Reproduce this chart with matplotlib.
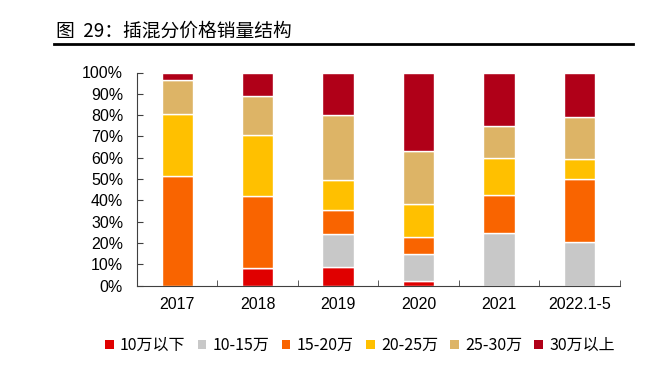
import matplotlib
matplotlib.use("Agg")
import matplotlib.pyplot as plt
from matplotlib.lines import Line2D
from matplotlib.patches import Patch
import numpy as np

plt.rcParams['font.family'] = ['Liberation Sans', 'Noto Sans CJK SC', 'DejaVu Sans']

categories = ['2017', '2018', '2019', '2020', '2021', '2022.1-5']
series_names = ['10万以下', '10-15万', '15-20万', '20-25万', '25-30万', '30万以上']
s_below10 = [0.0, 8.0, 8.8, 2.2, 0.0, 0.0]
s_10_15 = [0.0, 0.0, 15.5, 12.4, 24.6, 20.2]
s_15_20 = [51.5, 34.0, 11.3, 8.1, 17.7, 29.8]
s_20_25 = [29.0, 28.5, 14.0, 15.4, 17.7, 9.2]
s_25_30 = [16.0, 18.5, 30.5, 24.9, 15.1, 19.8]
s_above30 = [3.5, 11.0, 19.9, 37.0, 24.9, 21.0]
colors = ['#E00000', '#C8C8C8', '#F96400', '#FFC000', '#DDB466', '#B00018']

series = [s_below10, s_10_15, s_15_20, s_20_25, s_25_30, s_above30]

fig = plt.figure(figsize=(6.58, 3.81), dpi=100)
ax = fig.add_axes([137/658, 1-285.5/381, (619.5-137)/658, (285.5-72.5)/381])

x = np.arange(len(categories))
bottom = np.zeros(len(categories))
for vals, c, name in zip(series, colors, series_names):
    v = np.array(vals)
    ax.bar(x, v, bottom=bottom, width=0.39, color=c, edgecolor='white', linewidth=1.0, label=name)
    bottom += v

ax.set_xlim(-0.5, len(categories) - 0.5)
ax.set_ylim(0, 100)
ax.set_yticks(np.arange(0, 101, 10))
ax.set_yticklabels([f'{v}%' for v in range(0, 101, 10)])
ax.set_xticks(x)
ax.set_xticklabels(categories)
ax.set_xticks(np.arange(-0.5, len(categories), 1), minor=True)
ax.tick_params(axis='x', which='major', length=0, pad=8, labelsize=11.5, colors='black')
ax.tick_params(axis='x', which='minor', length=4, direction='in', color='#404040')
ax.tick_params(axis='y', length=4, direction='in', pad=10, labelsize=11.5, color='#404040')
for s in ['top', 'right']:
    ax.spines[s].set_visible(False)
ax.spines['left'].set_color('#404040')
ax.spines['bottom'].set_color('#404040')

fig.text(56/658, 1-30.7/381, '图  29：插混分价格销量结构', fontsize=13.5,
         family=['Noto Sans CJK SC', 'DejaVu Sans'], va='center', ha='left')
fig.add_artist(Line2D([54/658, 633/658], [1-44.3/381, 1-44.3/381], color='black', lw=2.0,
                      transform=fig.transFigure))

handles = [Patch(facecolor=c, edgecolor='none') for c in colors]
fig.legend(handles, series_names, loc='center', bbox_to_anchor=(360/658, 1-345.7/381), ncol=6,
           frameon=False, handlelength=0.55, handleheight=0.55, handletextpad=0.4, columnspacing=0.75,
           prop={'family': ['Noto Sans CJK SC', 'DejaVu Sans'], 'size': 11.5})

fig.savefig('out.png', dpi=100)
